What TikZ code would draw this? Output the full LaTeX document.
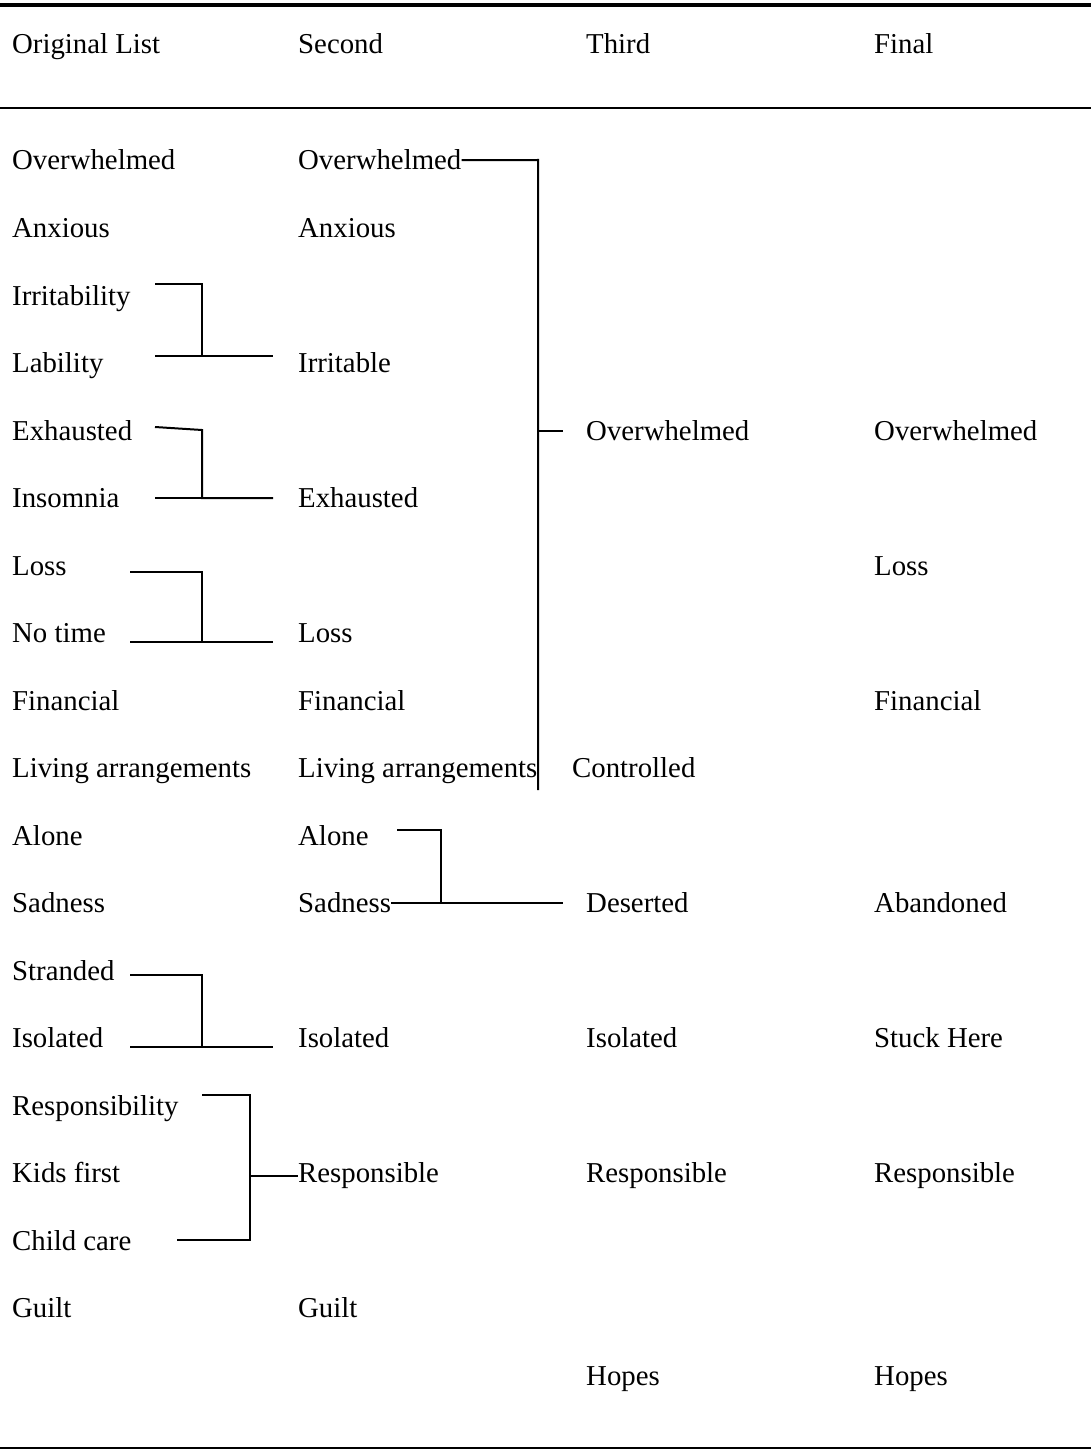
\documentclass[tikz,border=0pt]{standalone}
\usepackage{fontspec}
\setmainfont{Liberation Serif}
\usetikzlibrary{positioning,calc}

\begin{document}
\begin{tikzpicture}[x=1pt, y=-1pt,
        word/.style={anchor=base west, inner sep=0pt, font=\fontsize{28.8}{34}\selectfont},
        link/.style={line width=2pt},
        rule/.style={line width=2pt}
    ]
        \useasboundingbox (0,0) rectangle (1091,1455);

        % rules of the table
        \draw[rule, line width=3.8pt] (0,5) -- (1091,5);
        \draw[rule] (0,108) -- (1091,108);
        \draw[rule] (0,1448) -- (1091,1448);

        % headings
        \node[word] (h-orig) at (12,54) {Original List};
        \node[word] (h-second) at (298,54) {Second};
        \node[word] (h-third) at (586,54) {Third};
        \node[word] (h-final) at (874,54) {Final};

        % original list
        \foreach \t/\n [count=\i from 0] in {Overwhelmed/o-over, Anxious/o-anx, Irritability/o-irr, Lability/o-lab,
            Exhausted/o-exh, Insomnia/o-ins, Loss/o-loss, No time/o-time, Financial/o-fin,
            Living arrangements/o-liv, Alone/o-alone, Sadness/o-sad, Stranded/o-str, Isolated/o-iso,
            Responsibility/o-resp, Kids first/o-kids, Child care/o-care, Guilt/o-guilt}
            \node[word] (\n) at (12,170+67.5*\i) {\t};

        % second list
        \foreach \r/\t/\n in {0/Overwhelmed/s-over, 1/Anxious/s-anx, 3/Irritable/s-irr, 5/Exhausted/s-exh,
            7/Loss/s-loss, 8/Financial/s-fin, 9/Living arrangements/s-liv, 10/Alone/s-alone,
            11/Sadness/s-sad, 13/Isolated/s-iso, 15/Responsible/s-resp, 17/Guilt/s-guilt}
            \node[word] (\n) at (298,170+67.5*\r) {\t};

        % third list
        \foreach \r/\t/\n in {4/Overwhelmed/t-over, 11/Deserted/t-des, 13/Isolated/t-iso,
            15/Responsible/t-resp, 18/Hopes/t-hopes}
            \node[word] (\n) at (586,170+67.5*\r) {\t};
        \node[word] (t-ctrl) at (572,170+67.5*9) {Controlled};

        % final list
        \foreach \r/\t/\n in {4/Overwhelmed/f-over, 6/Loss/f-loss, 8/Financial/f-fin, 11/Abandoned/f-aban,
            13/Stuck Here/f-stuck, 15/Responsible/f-resp, 18/Hopes/f-hopes}
            \node[word] (\n) at (874,170+67.5*\r) {\t};

        % bracket points
        \coordinate (irr-a) at (155,284);
        \coordinate (irr-j) at (202,284);
        \coordinate (irr-b) at (155,356);
        \coordinate (irr-c) at (273,356);
        \coordinate (exh-a) at (155,427);
        \coordinate (exh-j) at (202,430);
        \coordinate (exh-b) at (155,498);
        \coordinate (exh-c) at (273,498);
        \coordinate (loss-a) at (130,572);
        \coordinate (loss-j) at (202,572);
        \coordinate (loss-b) at (130,642);
        \coordinate (loss-c) at (273,642);
        \coordinate (str-a) at (130,975);
        \coordinate (str-j) at (202,975);
        \coordinate (str-b) at (130,1047);
        \coordinate (str-c) at (273,1047);
        \coordinate (resp-a) at (202,1095);
        \coordinate (resp-j) at (250,1095);
        \coordinate (resp-b) at (177,1240);
        \coordinate (resp-k) at (250,1240);
        \coordinate (over-j) at (538,160);
        \coordinate (over-e) at (538,790);
        \coordinate (over-m) at (538,431);
        \coordinate (alone-a) at (397,830);
        \coordinate (alone-j) at (441,830);

        % first merge
        \draw[link] (irr-a) -- (irr-j) |- (irr-c);
        \draw[link] (irr-b) -- (irr-c);
        \draw[link] (exh-a) -- (exh-j) |- (exh-c);
        \draw[link] (exh-b) -- (exh-c);
        \draw[link] (loss-a) -- (loss-j) |- (loss-c);
        \draw[link] (loss-b) -- (loss-c);
        \draw[link] (str-a) -- (str-j) |- (str-c);
        \draw[link] (str-b) -- (str-c);
        \draw[link] (resp-a) -- (resp-j) -- (resp-k) -- (resp-b);
        \draw[link] (resp-j |- s-resp.west) -- (s-resp.west);

        % second merge
        \draw[link] (s-over.east) -- (over-j) -- (over-e);
        \draw[link] (over-m) -- ([xshift=-23pt]t-over.west |- over-m);
        \draw[link] (alone-a) -- (alone-j) -- (alone-j |- s-sad.east);
        \draw[link] (s-sad.east) -- ([xshift=-23pt]t-des.west |- s-sad.east);
    \end{tikzpicture}
\end{document}
